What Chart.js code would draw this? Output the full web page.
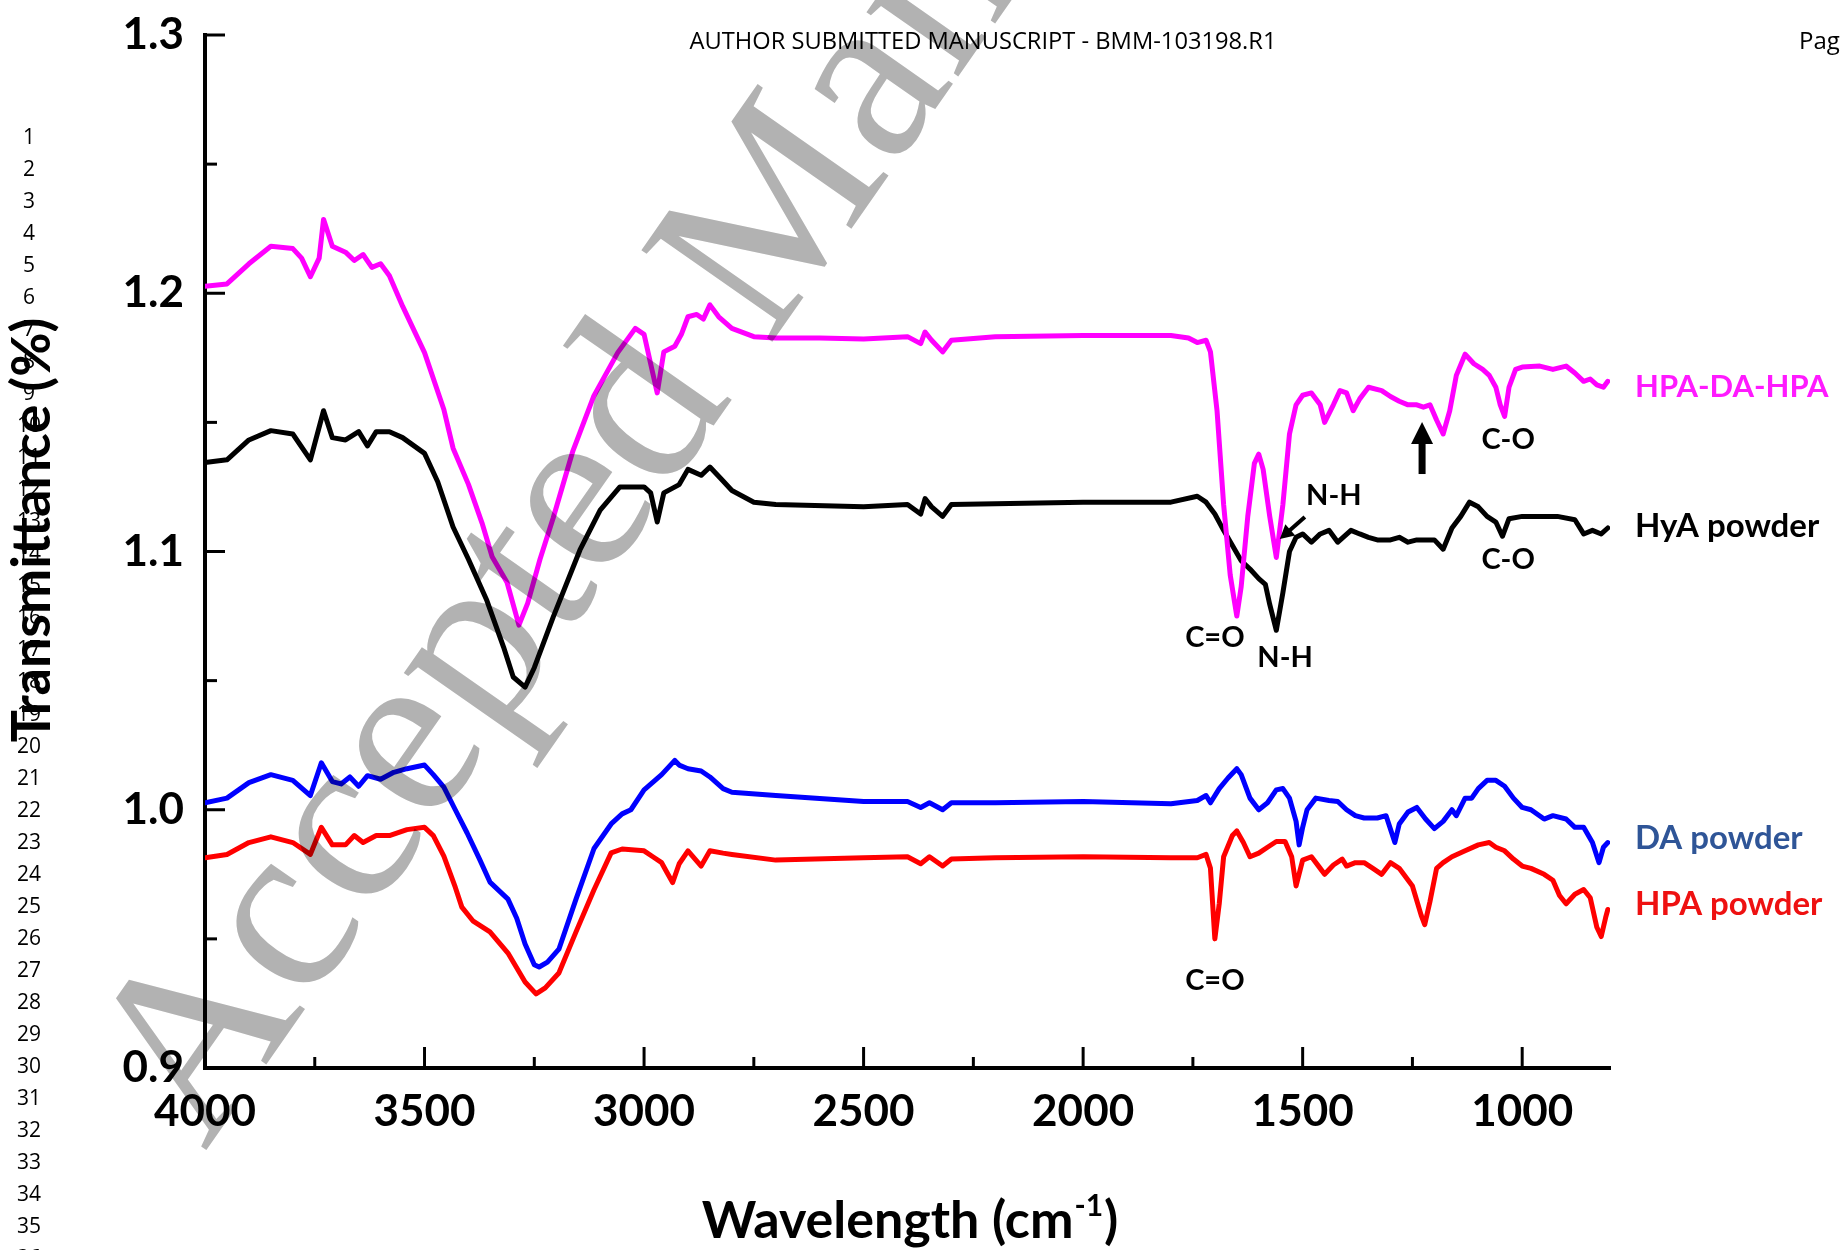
<!DOCTYPE html>
<html>
<head>
<meta charset="utf-8">
<title>FTIR spectra</title>
<script src="https://cdn.jsdelivr.net/npm/chart.js@4.4.1/dist/chart.umd.min.js"></script>
<style>
  html, body { margin: 0; padding: 0; background: #fff; }
  #wrap { width: 1840px; height: 1250px; }
</style>
</head>
<body>
<div id="wrap"><canvas id="chart" width="1840" height="1250"></canvas></div>
<script>
// values: wavenumber (cm-1) and transmittance
const hpaDaHpaWn = [4000,3950,3900,3850,3800,3780,3760,3740,3730,3710,3680,3660,3640,3620,3600,3580,3550,3500,3456,3435,3400,3369,3346,3312,3285,3265,3237,3207,3162,3115,3060,3020,3000,2985,2970,2955,2930,2915,2900,2880,2865,2850,2830,2800,2750,2700,2600,2500,2400,2370,2360,2345,2320,2300,2200,2000,1800,1760,1740,1720,1710,1695,1680,1665,1650,1640,1625,1610,1600,1590,1575,1560,1545,1530,1515,1500,1480,1460,1450,1430,1415,1400,1385,1370,1350,1320,1300,1280,1260,1240,1225,1210,1195,1180,1165,1150,1130,1110,1090,1075,1060,1050,1040,1030,1015,1000,960,930,900,880,860,845,830,815,805];
const hpaDaHpaT = [1.2027,1.2036,1.2114,1.2182,1.2173,1.2136,1.2064,1.2136,1.2286,1.2182,1.2159,1.2127,1.2150,1.2100,1.2114,1.2068,1.1950,1.1770,1.1550,1.1400,1.1260,1.1110,1.0980,1.0880,1.0715,1.0800,1.0970,1.1130,1.1390,1.1600,1.1770,1.1864,1.1841,1.1727,1.1614,1.1773,1.1795,1.1841,1.1909,1.1918,1.1900,1.1955,1.1909,1.1864,1.1832,1.1827,1.1827,1.1823,1.1832,1.1805,1.1850,1.1818,1.1773,1.1818,1.1832,1.1836,1.1836,1.1827,1.1809,1.1818,1.1773,1.1545,1.1182,1.0909,1.0750,1.0864,1.1136,1.1341,1.1377,1.1318,1.1136,1.0977,1.1182,1.1455,1.1568,1.1605,1.1614,1.1568,1.1500,1.1568,1.1623,1.1614,1.1545,1.1591,1.1636,1.1623,1.1600,1.1582,1.1568,1.1568,1.1559,1.1568,1.1509,1.1455,1.1545,1.1682,1.1764,1.1727,1.1705,1.1682,1.1636,1.1568,1.1523,1.1636,1.1705,1.1714,1.1718,1.1705,1.1718,1.1691,1.1659,1.1668,1.1645,1.1636,1.1659];

const hyaWn = [4000,3950,3900,3850,3800,3760,3730,3710,3680,3650,3630,3610,3580,3550,3500,3470,3435,3400,3358,3320,3298,3271,3250,3207,3146,3100,3055,3000,2985,2970,2955,2920,2900,2870,2850,2820,2800,2750,2700,2500,2400,2370,2360,2345,2320,2300,2000,1800,1740,1720,1700,1680,1660,1640,1620,1600,1585,1575,1560,1545,1530,1515,1500,1480,1460,1440,1420,1390,1370,1350,1330,1300,1280,1260,1240,1200,1180,1160,1140,1120,1100,1080,1060,1045,1030,1000,960,920,880,860,840,820,805];
const hyaT = [1.1345,1.1355,1.1432,1.1468,1.1455,1.1355,1.1545,1.1441,1.1432,1.1464,1.1409,1.1464,1.1464,1.1441,1.1380,1.1270,1.1095,1.0970,1.0810,1.0630,1.0514,1.0475,1.0550,1.0746,1.1006,1.1160,1.1250,1.1250,1.1227,1.1114,1.1227,1.1259,1.1318,1.1295,1.1327,1.1273,1.1236,1.1191,1.1182,1.1173,1.1182,1.1145,1.1205,1.1173,1.1136,1.1182,1.1191,1.1191,1.1214,1.1191,1.1145,1.1082,1.1023,1.0964,1.0932,1.0895,1.0873,1.0795,1.0695,1.0841,1.1000,1.1055,1.1068,1.1036,1.1068,1.1082,1.1036,1.1082,1.1068,1.1055,1.1045,1.1045,1.1055,1.1036,1.1045,1.1045,1.1009,1.1091,1.1136,1.1191,1.1173,1.1136,1.1114,1.1059,1.1127,1.1136,1.1136,1.1136,1.1123,1.1068,1.1082,1.1068,1.1091];

const daWn = [4000,3950,3900,3850,3800,3760,3735,3710,3690,3670,3650,3630,3600,3570,3540,3500,3480,3456,3430,3403,3375,3351,3310,3290,3271,3250,3239,3220,3194,3155,3114,3075,3050,3030,3000,2960,2930,2920,2900,2870,2850,2820,2800,2700,2500,2400,2370,2350,2320,2300,2200,2000,1800,1740,1720,1710,1690,1670,1650,1640,1620,1600,1580,1560,1545,1530,1515,1508,1500,1490,1470,1440,1420,1400,1380,1360,1330,1310,1290,1280,1260,1240,1220,1200,1180,1160,1150,1130,1115,1100,1080,1060,1040,1020,1000,980,950,930,900,880,860,840,825,815,805];
const daT = [1.0027,1.0045,1.0105,1.0136,1.0114,1.0055,1.0182,1.0109,1.0100,1.0127,1.0091,1.0132,1.0118,1.0145,1.0159,1.0173,1.0136,1.0088,1.0000,0.9910,0.9810,0.9720,0.9654,0.9580,0.9480,0.9400,0.9391,0.9410,0.9460,0.9654,0.9850,0.9945,0.9984,1.0000,1.0077,1.0136,1.0191,1.0173,1.0159,1.0150,1.0127,1.0082,1.0068,1.0055,1.0032,1.0032,1.0009,1.0027,1.0000,1.0027,1.0027,1.0032,1.0023,1.0036,1.0055,1.0027,1.0082,1.0123,1.0159,1.0136,1.0045,1.0000,1.0027,1.0077,1.0082,1.0045,0.9955,0.9864,0.9932,1.0000,1.0045,1.0036,1.0032,1.0000,0.9977,0.9968,0.9968,0.9977,0.9873,0.9945,0.9991,1.0009,0.9964,0.9927,0.9955,1.0000,0.9977,1.0045,1.0045,1.0082,1.0114,1.0114,1.0091,1.0045,1.0009,1.0000,0.9964,0.9977,0.9964,0.9932,0.9932,0.9873,0.9795,0.9855,0.9873];

const hpaWn = [4000,3950,3900,3850,3800,3760,3735,3710,3680,3660,3640,3610,3580,3540,3500,3480,3456,3430,3415,3390,3351,3310,3271,3246,3225,3194,3155,3114,3075,3050,3000,2980,2960,2950,2935,2920,2900,2870,2850,2820,2800,2700,2500,2400,2370,2350,2320,2300,2200,2000,1800,1740,1720,1710,1705,1700,1690,1680,1660,1650,1635,1620,1600,1580,1560,1540,1525,1515,1500,1480,1460,1450,1430,1410,1400,1380,1360,1340,1320,1300,1280,1250,1230,1222,1210,1195,1180,1160,1130,1100,1075,1060,1040,1020,1000,980,950,930,915,900,880,860,845,830,820,810,805];
const hpaT = [0.9814,0.9827,0.9873,0.9895,0.9873,0.9827,0.9932,0.9864,0.9864,0.9900,0.9873,0.9900,0.9900,0.9923,0.9932,0.9900,0.9820,0.9700,0.9623,0.9570,0.9527,0.9445,0.9333,0.9287,0.9310,0.9368,0.9527,0.9690,0.9833,0.9848,0.9841,0.9818,0.9795,0.9764,0.9718,0.9791,0.9841,0.9782,0.9841,0.9832,0.9827,0.9805,0.9814,0.9818,0.9791,0.9818,0.9782,0.9809,0.9814,0.9818,0.9814,0.9814,0.9827,0.9773,0.9636,0.9500,0.9636,0.9818,0.9900,0.9918,0.9873,0.9818,0.9832,0.9855,0.9877,0.9877,0.9818,0.9705,0.9805,0.9818,0.9773,0.9750,0.9786,0.9809,0.9782,0.9795,0.9795,0.9773,0.9750,0.9795,0.9773,0.9705,0.9591,0.9555,0.9645,0.9773,0.9795,0.9818,0.9841,0.9864,0.9873,0.9855,0.9841,0.9809,0.9782,0.9773,0.9750,0.9727,0.9668,0.9636,0.9673,0.9691,0.9659,0.9545,0.9509,0.9582,0.9614];

const seriesNames = ["HPA-DA-HPA", "HyA powder", "DA powder", "HPA powder"];
const xTicks = [4000, 3500, 3000, 2500, 2000, 1500, 1000];
const yTicks = [0.9, 1.0, 1.1, 1.2, 1.3];

// peak labels, anchored in data units
const peakLabels = [
  { text: "C-O", wn: 1032, t: 1.1432 },
  { text: "C-O", wn: 1032, t: 1.0967 },
  { text: "N-H", wn: 1429, t: 1.1215 },
  { text: "N-H", wn: 1540, t: 1.0588 },
  { text: "C=O", wn: 1700, t: 1.0665 },
  { text: "C=O", wn: 1700, t: 0.9337 }
];

const FONT = "Lato, 'Open Sans', sans-serif";

function pts(wn, t) {
  return wn.map((w, i) => ({ x: w, y: t[i] }));
}

function arrow(ctx, x1, y1, x2, y2, shaft, headW, headL) {
  const a = Math.atan2(y2 - y1, x2 - x1);
  const len = Math.hypot(x2 - x1, y2 - y1);
  ctx.save();
  ctx.translate(x1, y1);
  ctx.rotate(a);
  ctx.fillRect(0, -shaft / 2, len - headL + 1, shaft);
  ctx.beginPath();
  ctx.moveTo(len, 0);
  ctx.lineTo(len - headL, -headW / 2);
  ctx.lineTo(len - headL, headW / 2);
  ctx.closePath();
  ctx.fill();
  ctx.restore();
}

const decorations = {
  id: "decorations",
  afterDraw(chart) {
    const ctx = chart.ctx;
    const xs = chart.scales.x, ys = chart.scales.y;
    const area = chart.chartArea;
    ctx.save();

    // inward tick marks
    ctx.strokeStyle = "#000";
    ctx.lineWidth = 3;
    for (let v = 3750; v > 800; v -= 250) {
      const px = xs.getPixelForValue(v);
      const len = v % 500 === 0 ? 21 : 11;
      ctx.beginPath();
      ctx.moveTo(px, area.bottom);
      ctx.lineTo(px, area.bottom - len);
      ctx.stroke();
    }
    for (let k = 19; k <= 26; k++) {
      const py = ys.getPixelForValue(k / 20);
      const len = k % 2 === 0 ? 20 : 12;
      ctx.beginPath();
      ctx.moveTo(area.left, py);
      ctx.lineTo(area.left + len, py);
      ctx.stroke();
    }

    // axis titles
    ctx.fillStyle = "#000";
    ctx.font = "bold 54px " + FONT;
    ctx.textAlign = "center";
    ctx.textBaseline = "middle";
    ctx.save();
    ctx.translate(33, 530);
    ctx.rotate(-Math.PI / 2);
    ctx.fillText("Transmittance (%)", 0, 0);
    ctx.restore();

    const p1 = "Wavelength (cm", sup = "-1", p2 = ")";
    ctx.textBaseline = "alphabetic";
    ctx.textAlign = "left";
    ctx.font = "bold 52px " + FONT;
    const w1 = ctx.measureText(p1).width, w3 = ctx.measureText(p2).width;
    ctx.font = "bold 30px " + FONT;
    const w2 = ctx.measureText(sup).width;
    const tx = 909 - (w1 + w2 + w3) / 2;
    const base = 1238;
    ctx.font = "bold 52px " + FONT;
    ctx.fillText(p1, tx, base);
    ctx.font = "bold 30px " + FONT;
    ctx.fillText(sup, tx + w1 + 1, base - 22);
    ctx.font = "bold 52px " + FONT;
    ctx.fillText(p2, tx + w1 + w2 + 2, base);

    // manuscript header and line numbers
    ctx.font = "24px 'Open Sans', sans-serif";
    ctx.textBaseline = "middle";
    const head = "AUTHOR SUBMITTED MANUSCRIPT - BMM-103198.R1";
    const hw = ctx.measureText(head).width;
    ctx.save();
    ctx.translate(983, 42);
    ctx.scale(587 / hw, 1);
    ctx.textAlign = "center";
    ctx.fillText(head, 0, 0);
    ctx.restore();
    ctx.textAlign = "left";
    ctx.fillText("Page", 1799, 42);

    ctx.font = "21px 'Open Sans', sans-serif";
    ctx.textAlign = "center";
    for (let n = 1; n <= 36; n++) {
      ctx.fillText(String(n), 29, 138 + (n - 1) * 32.03);
    }

    // series labels on the right
    const labelY = [387, 526, 838, 904];
    const labelSize = [31, 33, 33, 33];
    const labelColors = ["#ff1aff", "#000000", "#2f5597", "#ee1111"];
    ctx.textAlign = "left";
    seriesNames.forEach((name, i) => {
      ctx.font = "bold " + labelSize[i] + "px " + FONT;
      ctx.fillStyle = labelColors[i];
      ctx.fillText(name, 1635, labelY[i]);
    });

    // peak annotations
    ctx.fillStyle = "#000";
    ctx.font = "bold 29px " + FONT;
    ctx.textAlign = "center";
    peakLabels.forEach(p => {
      ctx.fillText(p.text, xs.getPixelForValue(p.wn), ys.getPixelForValue(p.t));
    });
    arrow(ctx, xs.getPixelForValue(1228), ys.getPixelForValue(1.130),
      xs.getPixelForValue(1228), ys.getPixelForValue(1.1501), 7, 22, 22);
    arrow(ctx, xs.getPixelForValue(1495), ys.getPixelForValue(1.1134),
      xs.getPixelForValue(1552), ys.getPixelForValue(1.1048), 4, 15, 14);

    // watermark
    ctx.globalCompositeOperation = "multiply";
    ctx.fillStyle = "#b2b2b2";
    ctx.font = "244px 'Liberation Serif', serif";
    ctx.textAlign = "left";
    ctx.textBaseline = "alphabetic";
    ctx.translate(205, 1152);
    ctx.rotate(-55 * Math.PI / 180);
    ctx.fillText("Accepted Manuscript", 0, 0);
    ctx.restore();
  }
};

new Chart(document.getElementById("chart"), {
  type: "line",
  data: {
    datasets: [
      { label: seriesNames[0], data: pts(hpaDaHpaWn, hpaDaHpaT), borderColor: "#ff00ff" },
      { label: seriesNames[1], data: pts(hyaWn, hyaT), borderColor: "#000000" },
      { label: seriesNames[2], data: pts(daWn, daT), borderColor: "#0000ff" },
      { label: seriesNames[3], data: pts(hpaWn, hpaT), borderColor: "#ff0000" }
    ]
  },
  options: {
    responsive: false,
    animation: false,
    events: [],
    layout: { padding: { left: 0, top: 35, right: 230, bottom: 0 } },
    elements: {
      line: { borderWidth: 5, tension: 0, borderJoinStyle: "round", borderCapStyle: "round" },
      point: { radius: 0 }
    },
    plugins: { legend: { display: false }, tooltip: { enabled: false } },
    scales: {
      x: {
        type: "linear",
        reverse: true,
        min: 800,
        max: 4000,
        afterFit(s) { s.height = 182; s.paddingLeft = 0; s.paddingRight = 0; },
        afterBuildTicks(s) { s.ticks = xTicks.map(v => ({ value: v })); },
        grid: { drawOnChartArea: false, drawTicks: false },
        border: { display: true, color: "#000", width: 4 },
        ticks: {
          autoSkip: false, maxRotation: 0, padding: 17, color: "#000",
          font: { family: FONT, size: 44, weight: "bold" },
          callback: v => String(v)
        }
      },
      y: {
        min: 0.9,
        max: 1.3,
        afterFit(s) { s.width = 205; s.paddingTop = 0; s.paddingBottom = 0; },
        afterBuildTicks(s) { s.ticks = yTicks.map(v => ({ value: v })); },
        grid: { drawOnChartArea: false, drawTicks: false },
        border: { display: true, color: "#000", width: 4 },
        ticks: {
          padding: 21, color: "#000",
          font: { family: FONT, size: 44, weight: "bold" },
          callback: v => v.toFixed(1)
        }
      }
    }
  },
  plugins: [decorations]
});
</script>
</body>
</html>
